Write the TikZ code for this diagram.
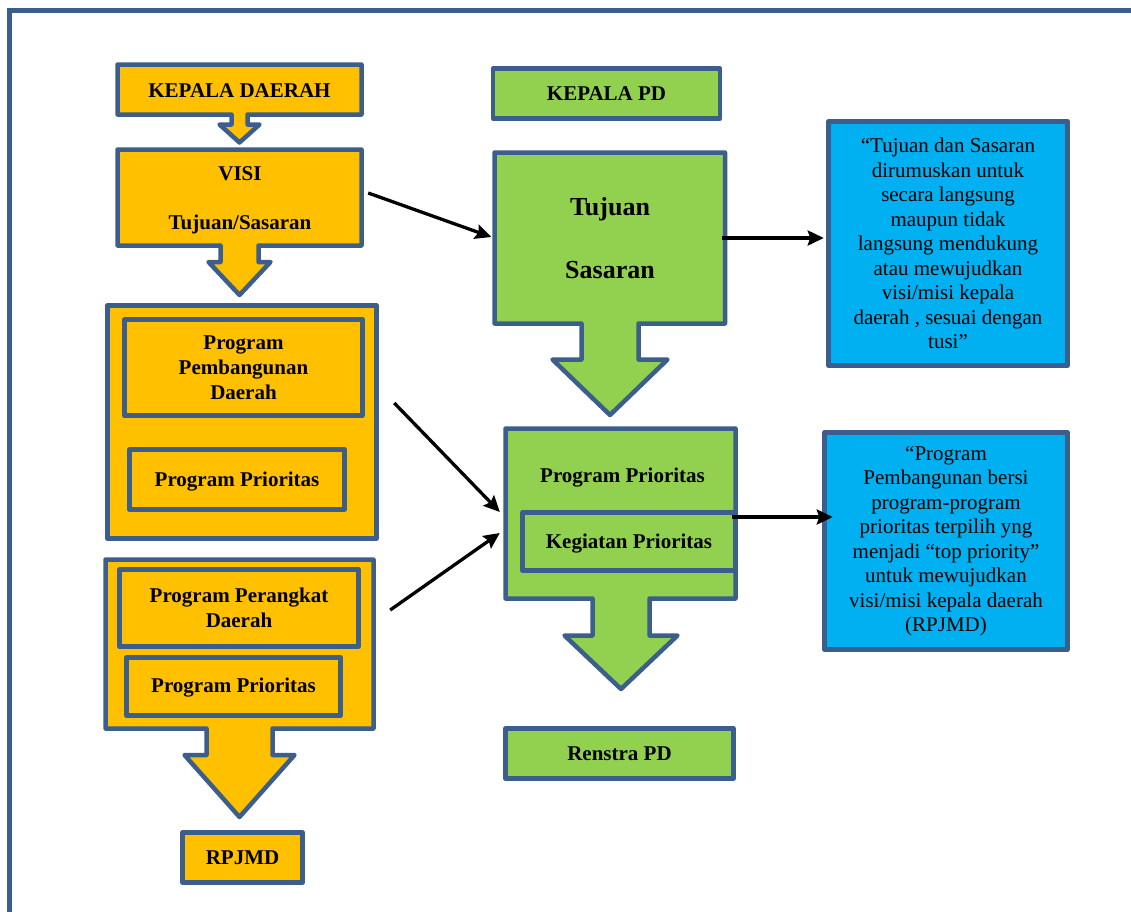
\documentclass[tikz,border=0pt]{standalone}
\usepackage{fontspec}
\setmainfont{Liberation Serif}
\usetikzlibrary{arrows.meta}
\definecolor{bd}{HTML}{3B5E8C}
\definecolor{yel}{HTML}{FFC000}
\definecolor{grn}{HTML}{92D050}
\definecolor{blu}{HTML}{00B0F0}
\tikzset{
  shp/.style={draw=bd, line width=4.5pt, line join=round},
  box/.style={shp, inner sep=0pt},
  area/.style={inner sep=0pt},
  lbl/.style={font=\bfseries\fontsize{21}{25}\selectfont, align=center, inner sep=0pt},
  big/.style={font=\bfseries\fontsize{26}{30}\selectfont, inner sep=0pt},
  note/.style={font=\fontsize{21}{24.5}\selectfont, align=center, inner sep=0pt},
  conn/.style={line width=3.3pt, -{Stealth[length=16pt,width=15pt,inset=2.5pt]}},
  frm/.style={draw=bd, line width=5pt},
}
\begin{document}
\begin{tikzpicture}[x=1pt,y=-1pt]
\useasboundingbox (0,0) rectangle (1131,911);
% frame
\draw[frm] (9.5,920) -- (9.5,10.5) -- (1140,10.5);

% ---- left column ----
\draw[shp, fill=yel] (117.5,64.5) -- (361.5,64.5) -- (361.5,114.5) -- (247.5,114.5) -- (247.5,124.5) -- (259.5,124.5) -- (239.5,142.5) -- (219.5,124.5) -- (231.5,124.5) -- (231.5,114.5) -- (117.5,114.5) -- cycle;
\node[lbl] (kd) at (239.5,91) {KEPALA DAERAH};

\draw[shp, fill=yel] (117.5,149.5) -- (361.5,149.5) -- (361.5,245.5) -- (258.5,245.5) -- (258.5,262) -- (270.5,262) -- (239.5,295) -- (208.5,262) -- (220.5,262) -- (220.5,245.5) -- (117.5,245.5) -- cycle;
\node[area, minimum width=244pt, minimum height=96pt] (visibox) at (239.5,197.5) {};
\node[lbl] (visi) at (240,174) {VISI};
\node[lbl] (ts) at (240,224) {Tujuan/Sasaran};

\node[box, fill=yel, minimum width=269pt, minimum height=233pt] (yb1) at (242,422) {};
\node[box, fill=yel, lbl, minimum width=238pt, minimum height=96pt] (ppd) at (243.5,367.5) {Program\\Pembangunan\\Daerah};
\node[box, fill=yel, minimum width=215pt, minimum height=60pt] (pp1) at (237,479.5) {};
\node[lbl] (pp1t) at (237,482) {Program Prioritas};

\draw[shp, fill=yel] (105.5,559.5) -- (373.5,559.5) -- (373.5,728.5) -- (272.5,728.5) -- (272.5,755) -- (294.5,755) -- (239.5,817) -- (184.5,755) -- (206.5,755) -- (206.5,728.5) -- (105.5,728.5) -- cycle;
\node[area, minimum width=268pt, minimum height=169pt] (yb2box) at (239.5,644) {};
\node[box, fill=yel, lbl, minimum width=239pt, minimum height=77pt] (ppr) at (239,608) {Program Perangkat\\Daerah};
\node[box, fill=yel, minimum width=214pt, minimum height=58pt] (pp2) at (233.5,686.5) {};
\node[lbl] (pp2t) at (233.5,688) {Program Prioritas};
\node[box, fill=yel, lbl, minimum width=120pt, minimum height=50pt] (rpjmd) at (242.5,857.5) {RPJMD};

% ---- middle column ----
\node[box, fill=grn, lbl, minimum width=227pt, minimum height=50pt] (kpd) at (606.5,93.5) {KEPALA PD};

\draw[shp, fill=grn] (494.5,152.5) -- (725,152.5) -- (725,323.5) -- (638.5,323.5) -- (638.5,359.5) -- (667.5,359.5) -- (610,415) -- (552.5,359.5) -- (581.5,359.5) -- (581.5,323.5) -- (494.5,323.5) -- cycle;
\node[area, minimum width=230.5pt, minimum height=171pt] (tujbox) at (609.75,238) {};
\node[big] (tuj) at (610,209) {Tujuan};
\node[big] (sas) at (610,270) {Sasaran};

\draw[shp, fill=grn] (505.5,428.5) -- (735.5,428.5) -- (735.5,598.5) -- (649.5,598.5) -- (649.5,635.5) -- (677.5,635.5) -- (621,689) -- (564.5,635.5) -- (592.5,635.5) -- (592.5,598.5) -- (505.5,598.5) -- cycle;
\node[area, minimum width=230pt, minimum height=170pt] (gbox) at (620.5,513.5) {};
\node[lbl] (gpp) at (622.5,478) {Program Prioritas};
\node[box, fill=grn, minimum width=213pt, minimum height=58pt] (kp) at (629,541.5) {};
\node[lbl] (kpt) at (629,543.5) {Kegiatan Prioritas};

\node[box, fill=grn, lbl, minimum width=228pt, minimum height=50pt] (renstra) at (619.5,753.5) {Renstra PD};

% ---- right column ----
\node[box, fill=blu, note, minimum width=239pt, minimum height=244pt] (blue1) at (948,243.5) {“Tujuan dan Sasaran\\dirumuskan untuk\\secara langsung\\maupun tidak\\langsung mendukung\\atau mewujudkan\\visi/misi kepala\\daerah , sesuai dengan\\tusi”};
\node[box, fill=blu, note, minimum width=243pt, minimum height=217pt] (blue2) at (946,541) {“Program\\Pembangunan bersi\\program-program\\prioritas terpilih yng\\menjadi “top priority”\\untuk mewujudkan\\visi/misi kepala daerah\\(RPJMD)};

% ---- connectors ----
\draw[conn] ([xshift=6.5pt,yshift=4.5pt]visibox.east) -- ([xshift=-3pt,yshift=1pt]tujbox.west);
\draw[conn] ([xshift=-3pt]tujbox.east) -- ([xshift=-2.5pt,yshift=5.5pt]blue1.west);
\draw[conn] ([xshift=15.5pt,yshift=19pt]yb1.east) -- ([xshift=-5.5pt,yshift=1.5pt]gbox.west);
\draw[conn] ([xshift=16.5pt,yshift=34pt]yb2box.east) -- ([xshift=-5.5pt,yshift=-19.5pt]gbox.west);
\draw[conn] ([xshift=-5.5pt,yshift=24.5pt]kp.east) -- ([xshift=10.5pt,yshift=24pt]blue2.west);
\end{tikzpicture}
\end{document}
